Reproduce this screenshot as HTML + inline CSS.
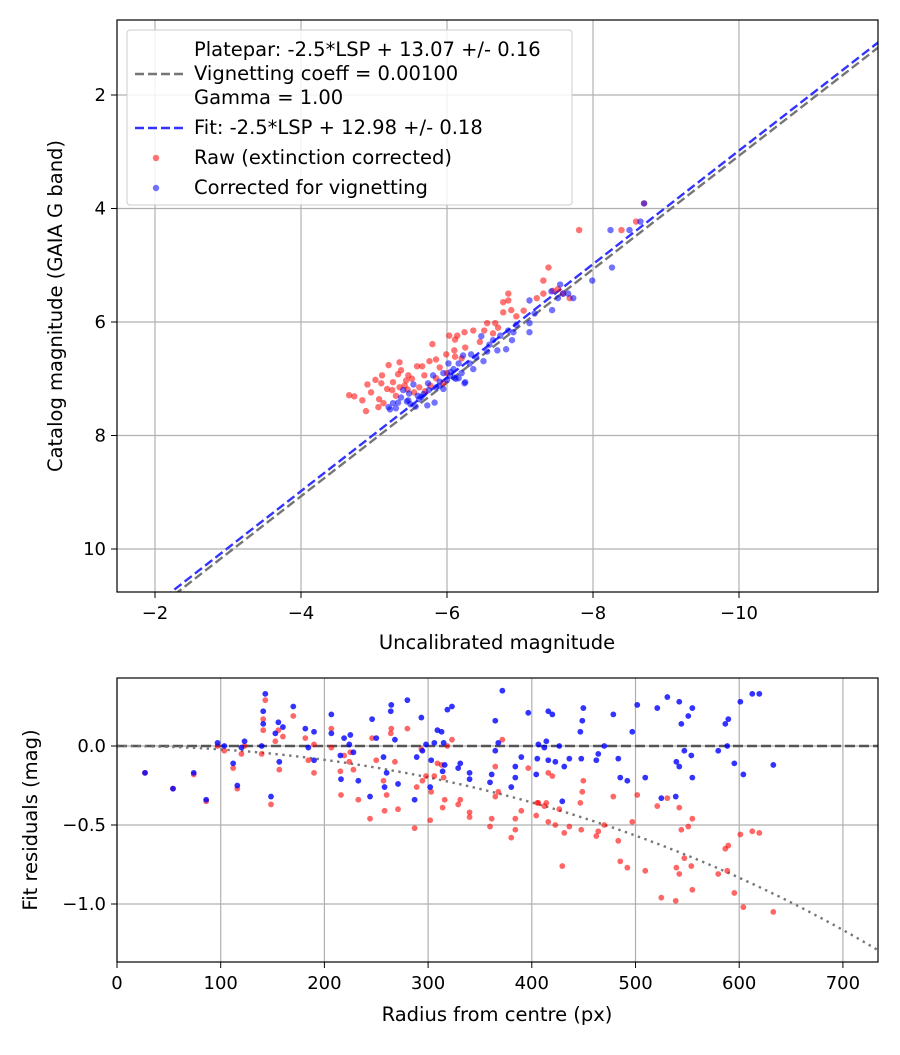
<!DOCTYPE html>
<html><head><meta charset="utf-8"><style>
body{margin:0;background:#fff}
svg text{font-family:"DejaVu Sans","Liberation Sans",sans-serif;fill:#000}
</style></head><body>
<svg id="chart" width="900" height="1050" xmlns="http://www.w3.org/2000/svg">
<defs>
<clipPath id="c1"><rect x="117" y="20" width="761" height="572"/></clipPath>
<clipPath id="c2"><rect x="117" y="678" width="761" height="284"/></clipPath>
</defs>
<rect width="900" height="1050" fill="#fff"/>
<g id="top"></g>
<g id="bot"></g>
</svg>
<script>
const topXTicks=[-2,-4,-6,-8,-10];
const topYTicks=[2,4,6,8,10];
const platepar=13.07, fitZero=12.98, vigCoeff=0.001;
const rawX=[-7.81,-7.39,-7.32,-6.84,-6.84,-6.77,-6.88,-6.77,-6.55,-6.66,-6.36,-6.24,-6.14,-6.03,-6.11,-5.99,-5.80,-5.85,-5.76,-6.10,-6.11,-6.20,-5.47,-5.35,-5.20,-5.37,-5.33,-5.11,-5.10,-5.26,-5.44,-5.59,-5.66,-5.69,-4.91,-4.96,-4.66,-4.73,-4.84,-4.89,-5.07,-5.06,-5.13,-5.35,-5.46,-5.55,-5.77,-5.85,-5.95,-6.63,-6.51,-7.23,-7.32,-7.52,-7.59,-7.68,-8.39,-8.59,-8.70,-5.25,-5.42,-5.52,-5.62,-5.30,-5.18,-5.02,-5.70,-5.90,-6.00,-6.25,-6.45,-6.70,-6.95,-7.05,-7.45];
const rawY=[4.38,5.04,5.27,5.50,5.62,5.65,5.79,5.83,6.02,6.02,6.15,6.18,6.24,6.24,6.31,6.57,6.39,6.66,6.69,6.50,6.61,6.64,6.94,6.71,6.76,6.85,6.92,6.94,7.08,7.06,7.03,6.78,6.78,6.94,7.10,7.24,7.29,7.31,7.38,7.57,7.36,7.50,7.43,7.15,7.19,7.24,7.12,6.99,7.08,6.20,6.15,5.58,5.50,5.42,5.50,5.58,4.38,4.23,3.91,7.20,7.12,7.00,7.15,7.30,7.18,7.02,7.22,6.80,6.90,6.45,6.35,6.10,5.90,5.80,5.45];
const corX=[-8.70,-8.65,-8.50,-8.24,-8.26,-7.99,-7.73,-7.55,-7.66,-7.44,-7.13,-7.13,-7.13,-6.91,-6.89,-6.81,-6.69,-6.55,-6.47,-6.50,-6.33,-6.22,-6.24,-6.16,-6.09,-6.02,-5.95,-5.89,-5.81,-5.74,-5.68,-5.62,-5.54,-5.48,-5.37,-5.33,-5.26,-5.20,-5.22,-5.40,-5.83,-5.73,-5.57,-5.47,-6.25,-6.36,-6.63,-6.73,-6.84,-6.31,-6.16,-6.04,-7.43,-7.52,-7.59,-5.30,-5.45,-5.60,-5.75,-5.90,-6.00,-6.10,-6.20,-5.95,-6.05,-5.65,-5.50,-6.40,-6.58,-6.95,-7.20,-5.85,-6.12];
const corY=[3.91,4.23,4.38,4.38,5.04,5.27,5.58,5.34,5.50,5.79,5.62,6.02,6.18,6.18,6.32,6.48,6.50,6.52,6.25,6.69,6.57,6.59,7.08,6.99,6.83,6.73,6.90,7.13,6.94,7.08,7.27,7.36,7.10,7.26,7.33,7.42,7.43,7.50,7.54,7.20,7.42,7.47,7.49,7.38,7.06,6.83,6.32,6.24,6.15,6.73,6.73,6.95,5.46,5.58,5.50,7.52,7.40,7.30,7.20,7.05,7.02,6.98,6.90,7.18,6.88,7.32,7.45,6.62,6.40,6.05,5.85,7.15,7.00];
const botXTicks=[0,100,200,300,400,500,600,700];
const botYTicks=[0,-0.5,-1.0];
const resR=[27,54,74,86,97,103.5,112,116,120,123,139.5,143,141,141,148.5,152.7,155.6,160,156.5,170,181.6,184.5,190,190,206.7,206.7,215.4,216,219,225,224,228,232.7,244,246,250,257,258,260,264,264.5,268,271,280,287,289,293.5,294.5,298,302,303,306,309,313,314,315,316,318.6,323,329,331,340,340,
371.6,364.8,367.7,364.8,361.3,359.7,384.1,384.1,389.9,380.2,396.6,405.3,406.3,404.3,412.1,414,415.9,419.8,415.9,422.7,426.5,429.4,431.3,436.2,446.8,448.7,449.7,447.7,462.2,464.1,469.9,478.6,483.4,485.3,492.1,496.9,501.7,509.4,521,524.9,530.7,538.8,539.4,542.2,542.2,544.2,547.1,550.9,553.8,554.8,554.8,579.8,586.6,588.5,589.5,595.3,601.1,604,612.6,619.4,632.9];
const resBlue=[-0.17,-0.27,-0.17,-0.34,0.02,0.00,-0.11,-0.25,-0.01,0.03,0.00,0.33,0.22,0.14,-0.32,0.08,0.15,0.12,-0.10,0.25,0.11,-0.01,0.09,-0.09,0.20,0.08,-0.06,-0.21,0.05,0.07,0.01,-0.04,-0.22,-0.32,0.17,0.05,-0.07,-0.26,-0.17,0.22,0.26,0.04,-0.24,0.29,-0.34,-0.07,0.18,-0.03,0.01,-0.26,-0.09,0.02,0.10,0.09,-0.16,0.02,-0.12,0.23,0.25,-0.14,-0.11,-0.17,-0.21,
0.35,0.16,0.02,-0.03,-0.18,-0.23,-0.13,-0.20,-0.07,-0.26,0.21,-0.08,0.01,-0.18,-0.01,0.03,0.22,0.20,-0.09,-0.10,0.00,-0.35,-0.13,-0.08,0.09,0.16,0.24,-0.08,-0.09,-0.05,0.00,0.20,-0.08,-0.20,-0.22,0.09,0.26,-0.20,0.24,-0.33,0.31,-0.32,-0.10,0.28,-0.13,0.14,-0.03,0.19,-0.06,0.24,-0.20,-0.03,0.14,0.00,0.17,-0.11,0.28,-0.18,0.33,0.33,-0.12];
const resRed=[-0.17,-0.27,-0.18,-0.35,0.00,-0.03,-0.14,-0.27,-0.05,0.00,-0.05,0.29,0.17,0.10,-0.37,0.03,0.10,0.06,-0.15,0.19,0.05,-0.09,0.01,-0.17,0.11,-0.01,-0.16,-0.31,-0.06,-0.04,-0.10,-0.15,-0.34,-0.46,0.05,-0.09,-0.22,-0.41,-0.31,0.08,0.11,-0.10,-0.40,0.11,-0.52,-0.26,-0.02,-0.22,-0.19,-0.47,-0.29,-0.19,-0.11,-0.12,-0.39,-0.20,-0.34,0.00,0.04,-0.37,-0.34,-0.42,-0.45,
0.04,-0.13,-0.29,-0.32,-0.46,-0.51,-0.46,-0.53,-0.41,-0.58,-0.14,-0.36,-0.36,-0.44,-0.38,-0.36,-0.17,-0.19,-0.48,-0.50,-0.40,-0.76,-0.55,-0.51,-0.36,-0.29,-0.22,-0.53,-0.57,-0.54,-0.50,-0.32,-0.60,-0.73,-0.77,-0.48,-0.31,-0.79,-0.38,-0.96,-0.33,-0.98,-0.77,-0.39,-0.81,-0.53,-0.71,-0.51,-0.76,-0.46,-0.91,-0.81,-0.65,-0.79,-0.63,-0.93,-0.56,-1.02,-0.54,-0.55,-1.05];

const NS='http://www.w3.org/2000/svg';
function mk(parent,tag,attrs){const e=document.createElementNS(NS,tag);for(const k in attrs)e.setAttribute(k,attrs[k]);parent.appendChild(e);return e;}
const fmtNum=v=>String(v).replace('-','\u2212');
const TK=18, LB=19.5;

const T=document.getElementById('top');
const tx=v=>155+(-2-v)*73;
const ty=v=>95+(v-2)*56.75;
function grid(g,x1,y1,x2,y2){const l=mk(g,'line',{x1,y1,x2,y2,stroke:'#b0b0b0','stroke-width':1.2});

}
topXTicks.forEach(v=>{grid(T,tx(v),20,tx(v),592);
 mk(T,'line',{x1:tx(v),y1:592,x2:tx(v),y2:598,stroke:'#000'});
 const t=mk(T,'text',{x:tx(v),y:619,'font-size':TK,'text-anchor':'middle'});t.textContent=fmtNum(v);
 
 });
topYTicks.forEach(v=>{grid(T,117,ty(v),878,ty(v));
 mk(T,'line',{x1:111,y1:ty(v),x2:117,y2:ty(v),stroke:'#000'});
 const t=mk(T,'text',{x:106,y:ty(v)+6,'font-size':TK,'text-anchor':'end'});t.textContent=fmtNum(v);
 
 });
const tc=mk(T,'g',{'clip-path':'url(#c1)'});
[[platepar,'#767676','platepar-line'],[fitZero,'#3333ff','fit-line']].forEach(([z,c,n])=>{
 const l=mk(tc,'line',{x1:tx(-1),y1:ty(-1+z),x2:tx(-12),y2:ty(-12+z),stroke:c,'stroke-width':2.4,'stroke-dasharray':'9,4'});
 
 });
rawX.forEach((v,i)=>{const c=mk(tc,'circle',{cx:tx(v),cy:ty(rawY[i]),r:3.2,fill:'#ff0000','fill-opacity':0.55});
 
 });
corX.forEach((v,i)=>{const c=mk(tc,'circle',{cx:tx(v),cy:ty(corY[i]),r:3.2,fill:'#0000ff','fill-opacity':0.55});
 
 });
mk(T,'rect',{x:117,y:20,width:761,height:572,fill:'none',stroke:'#000','stroke-width':1.2});
let t=mk(T,'text',{x:497,y:649,'font-size':LB,'text-anchor':'middle'});t.textContent='Uncalibrated magnitude';


t=mk(T,'text',{x:62,y:306,'font-size':LB,'text-anchor':'middle',transform:'rotate(-90 62 306)'});t.textContent='Catalog magnitude (GAIA G band)';


const L=mk(T,'g',{});


mk(L,'rect',{x:127,y:30,width:445,height:175,rx:3,fill:'#fff','fill-opacity':0.85,stroke:'#ccc'});
const legT=[['Platepar: -2.5*LSP + 13.07 +/- 0.16',56],['Vignetting coeff = 0.00100',80],['Gamma = 1.00',104],['Fit: -2.5*LSP + 12.98 +/- 0.18',134],['Raw (extinction corrected)',164],['Corrected for vignetting',194]];
legT.forEach(([s,y])=>{const e=mk(L,'text',{x:194,y:y,'font-size':LB});e.textContent=s;
 
 });
mk(L,'line',{x1:135,y1:74,x2:184,y2:74,stroke:'#767676','stroke-width':2.4,'stroke-dasharray':'9,4'});
mk(L,'line',{x1:135,y1:128,x2:184,y2:128,stroke:'#3333ff','stroke-width':2.4,'stroke-dasharray':'9,4'});
mk(L,'circle',{cx:156,cy:158,r:3.2,fill:'#ff0000','fill-opacity':0.55});
mk(L,'circle',{cx:156,cy:188,r:3.2,fill:'#0000ff','fill-opacity':0.55});

const B=document.getElementById('bot');
const bx=v=>117+v*1.037;
const by=v=>746-v*158;
botXTicks.forEach(v=>{grid(B,bx(v),678,bx(v),962);
 mk(B,'line',{x1:bx(v),y1:962,x2:bx(v),y2:968,stroke:'#000'});
 const e=mk(B,'text',{x:bx(v),y:989,'font-size':TK,'text-anchor':'middle'});e.textContent=v;
 
 });
botYTicks.forEach(v=>{grid(B,117,by(v),878,by(v));
 mk(B,'line',{x1:111,y1:by(v),x2:117,y2:by(v),stroke:'#000'});
 const e=mk(B,'text',{x:106,y:by(v)+6,'font-size':TK,'text-anchor':'end'});e.textContent=fmtNum(v.toFixed(1));
 
 });
const bc=mk(B,'g',{'clip-path':'url(#c2)'});
let zl=mk(bc,'line',{x1:117,y1:by(0),x2:878,y2:by(0),stroke:'#555','stroke-width':2.6,'stroke-dasharray':'10,4'});


let pts=[];for(let r=0;r<=740;r+=5){pts.push(bx(r)+','+by(10*Math.log10(Math.cos(vigCoeff*r))));}
let vc=mk(bc,'polyline',{points:pts.join(' '),fill:'none',stroke:'#777','stroke-width':2.4,'stroke-dasharray':'2.4,4.5'});


resR.forEach((r,i)=>{let c=mk(bc,'circle',{cx:bx(r),cy:by(resRed[i]),r:2.9,fill:'#ff0000','fill-opacity':0.6});
 
 });
resR.forEach((r,i)=>{let c=mk(bc,'circle',{cx:bx(r),cy:by(resBlue[i]),r:2.9,fill:'#0000ff','fill-opacity':0.8});
 
 });
mk(B,'rect',{x:117,y:678,width:761,height:284,fill:'none',stroke:'#000','stroke-width':1.2});
t=mk(B,'text',{x:497,y:1021,'font-size':LB,'text-anchor':'middle'});t.textContent='Radius from centre (px)';


t=mk(B,'text',{x:37,y:820,'font-size':LB,'text-anchor':'middle',transform:'rotate(-90 37 820)'});t.textContent='Fit residuals (mag)';


</script>
</body></html>
